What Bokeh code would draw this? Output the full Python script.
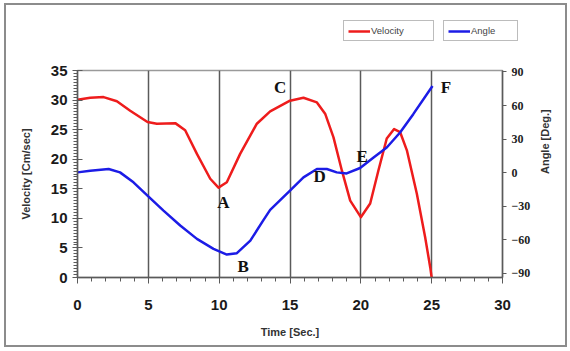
import math
from bokeh.plotting import figure
from bokeh.layouts import column
from bokeh.models import (Range1d, LinearAxis, Legend, LegendItem, FixedTicker,
                          ColumnDataSource, LabelSet)
from bokeh.embed import file_html
from bokeh.resources import INLINE

# ---- data ----
time_vel = [0, 0.9, 1.84, 2.78, 3.72, 4.94, 5.6, 6.9, 7.6, 8.43, 9.37, 9.95, 10.54,
            11.48, 12.66, 13.6, 15.0, 15.95, 16.9, 17.48, 18.07, 18.66, 19.25, 20.0,
            20.66, 21.24, 21.83, 22.35, 22.77, 23.25, 23.95, 24.54, 24.9, 25.0]
velocity = [30.05, 30.4, 30.5, 29.8, 28.2, 26.3, 26.0, 26.1, 24.9, 20.9, 16.7, 15.2, 16.1,
            20.9, 26.0, 28.1, 29.9, 30.4, 29.6, 27.7, 23.7, 18.1, 13.0, 10.2,
            12.5, 18.1, 23.5, 25.1, 24.6, 21.5, 14.2, 6.8, 1.7, 0.0]

time_ang = [0, 0.9, 2.2, 3.0, 3.95, 4.94, 6.07, 7.25, 8.43, 9.6, 10.54, 11.25, 12.2,
            13.1, 13.6, 15.0, 15.95, 16.9, 17.6, 18.3, 19.0, 19.95, 20.9, 21.83,
            22.77, 23.7, 25.06]
angle = [0.3, 1.8, 3.3, 0.3, -8.6, -20.5, -33.9, -47.2, -59.1, -68.0, -73.1, -71.9, -60.6,
         -42.8, -33.2, -16.0, -4.2, 3.3, 3.3, 0.3, -0.6, 4.2, 13.6, 22.5,
         35.9, 52.3, 77.5]

point_names = ["A", "B", "C", "D", "E", "F"]
point_time = [10.3, 11.7, 14.3, 17.1, 20.1, 26.0]
point_vel = [12.6, 1.9, 32.2, 17.0, 20.5, 32.2]

x_ticks = [0, 5, 10, 15, 20, 25, 30]
vel_ticks = [0, 5, 10, 15, 20, 25, 30, 35]
ang_ticks = [-90, -60, -30, 0, 30, 60, 90]

series_names = ["Velocity", "Angle"]

RED = "#ee1c1c"
BLUE = "#1c1ce6"
GRID = "#5a5a5a"
W = 559

# ---------------- main chart ----------------
p = figure(width=W, height=290, output_backend="svg", toolbar_location=None,
           x_range=Range1d(0, 30), y_range=Range1d(0, 35),
           min_border_left=71, min_border_right=63, min_border_top=15,
           min_border_bottom=68)
p.background_fill_color = "white"
p.border_fill_color = "white"
p.outline_line_color = "#9a9a9a"
p.outline_line_width = 1.5

p.extra_y_ranges = {"angle": Range1d(-93.6, 91.3)}

p.ygrid.visible = False
p.xgrid.ticker = FixedTicker(ticks=x_ticks)
p.xgrid.grid_line_color = GRID
p.xgrid.grid_line_width = 1.5

xa = p.xaxis[0]
xa.ticker = FixedTicker(ticks=x_ticks, minor_ticks=list(range(0, 31)))
xa.axis_label = "Time [Sec.]"
xa.axis_line_color = GRID
xa.axis_line_width = 1.5
xa.major_tick_line_color = GRID
xa.major_tick_in = 0
xa.major_tick_out = 6
xa.minor_tick_line_color = GRID
xa.minor_tick_in = 0
xa.minor_tick_out = 4
xa.major_label_text_font = "Liberation Sans"
xa.major_label_text_font_style = "bold"
xa.major_label_text_font_size = "15px"
xa.major_label_text_color = "#1a1a1a"
xa.major_label_standoff = 16
xa.axis_label_text_font = "Liberation Sans"
xa.axis_label_text_font_style = "bold"
xa.axis_label_text_font_size = "11px"
xa.axis_label_text_color = "#333333"
xa.axis_label_standoff = 13

ya = p.yaxis[0]
ya.ticker = FixedTicker(ticks=vel_ticks, minor_ticks=[i * 0.5 for i in range(0, 71)])
ya.axis_label = "Velocity [Cm/sec]"
ya.axis_line_color = GRID
ya.axis_line_width = 1.5
ya.major_tick_line_color = GRID
ya.major_tick_in = 5
ya.major_tick_out = 5
ya.minor_tick_line_color = GRID
ya.minor_tick_in = 0
ya.minor_tick_out = 4
ya.major_label_text_font = "Liberation Sans"
ya.major_label_text_font_style = "bold"
ya.major_label_text_font_size = "15px"
ya.major_label_text_color = "#1a1a1a"
ya.major_label_standoff = 5
ya.axis_label_text_font = "Liberation Sans"
ya.axis_label_text_font_style = "bold"
ya.axis_label_text_font_size = "11px"
ya.axis_label_text_color = "#333333"
ya.axis_label_standoff = 16

ra = LinearAxis(y_range_name="angle", ticker=FixedTicker(ticks=ang_ticks),
                axis_label="Angle [Deg.]")
ra.axis_line_color = GRID
ra.axis_line_width = 1.5
ra.major_tick_line_color = GRID
ra.major_tick_in = 0
ra.major_tick_out = 4
ra.minor_tick_line_color = None
ra.major_label_text_font = "Liberation Serif"
ra.major_label_text_font_style = "bold"
ra.major_label_text_font_size = "12px"
ra.major_label_text_color = "#222222"
ra.major_label_standoff = 5
ra.axis_label_text_font = "Liberation Sans"
ra.axis_label_text_font_style = "bold"
ra.axis_label_text_font_size = "11px"
ra.axis_label_text_color = "#333333"
ra.axis_label_standoff = 12
if hasattr(ra, "axis_label_orientation"):
    ra.axis_label_orientation = math.pi / 2
p.add_layout(ra, "right")

p.line(time_vel, velocity, line_color=RED, line_width=2.5, line_join="round")
p.line(time_ang, angle, line_color=BLUE, line_width=2.5, line_join="round",
       y_range_name="angle")

src = ColumnDataSource(dict(x=point_time, y=point_vel, t=point_names))
p.add_layout(LabelSet(x="x", y="y", text="t", source=src, text_align="center",
                      text_baseline="middle", text_font="Liberation Serif",
                      text_font_style="bold", text_font_size="17px",
                      text_color="#111111"))

# ---------------- legend strip ----------------
lf = figure(width=W, height=50, output_backend="svg", toolbar_location=None,
            x_range=Range1d(0, 1), y_range=Range1d(500, 501),
            min_border_left=0, min_border_right=0, min_border_top=0,
            min_border_bottom=0)
if hasattr(lf, "frame_align"):
    lf.frame_align = False
lf.axis.visible = False
lf.grid.visible = False
lf.outline_line_color = None
lf.background_fill_color = "white"
lf.border_fill_color = "white"
# same series; the strip's ranges keep them out of view, only their legend glyphs show
lr_vel = lf.line(time_vel, velocity, line_color=RED, line_width=2.5)
lr_ang = lf.line(time_ang, angle, line_color=BLUE, line_width=2.5)


def make_legend(label, rend, loc, lw):
    return Legend(items=[LegendItem(label=label, renderers=[rend])], location=loc,
                  border_line_color="#7a7a7a", border_line_width=1.5,
                  background_fill_color="white", background_fill_alpha=1,
                  label_text_font="Liberation Sans", label_text_font_size="9.5px",
                  label_text_color="#444444", glyph_width=22, glyph_height=10,
                  label_height=10, label_width=lw, label_standoff=1,
                  padding=4, margin=0, spacing=0)


lf.add_layout(make_legend(series_names[0], lr_vel, (337, 14), 58))
lf.add_layout(make_legend(series_names[1], lr_ang, (437, 14), 42))

layout = column(lf, p, spacing=0, margin=(3, 0, 0, 4),
                styles={"border": "2px solid #8c8c8c"})

open("out.html", "w").write(file_html(layout, INLINE))
